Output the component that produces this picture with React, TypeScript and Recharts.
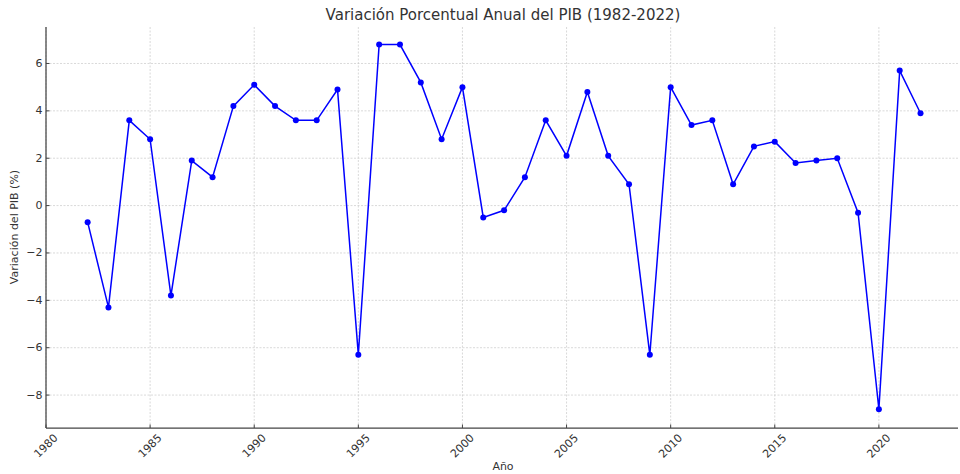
import React from "react";
import { LineChart, Line, XAxis, YAxis, CartesianGrid } from "recharts";

const years = [
  1982, 1983, 1984, 1985, 1986, 1987, 1988, 1989, 1990, 1991, 1992, 1993, 1994,
  1995, 1996, 1997, 1998, 1999, 2000, 2001, 2002, 2003, 2004, 2005, 2006, 2007,
  2008, 2009, 2010, 2011, 2012, 2013, 2014, 2015, 2016, 2017, 2018, 2019, 2020,
  2021, 2022,
];
const gdpChange = [
  -0.7, -4.3, 3.6, 2.8, -3.8, 1.9, 1.2, 4.2, 5.1, 4.2, 3.6, 3.6, 4.9, -6.3, 6.8,
  6.8, 5.2, 2.8, 5.0, -0.5, -0.2, 1.2, 3.6, 2.1, 4.8, 2.1, 0.9, -6.3, 5.0, 3.4,
  3.6, 0.9, 2.5, 2.7, 1.8, 1.9, 2.0, -0.3, -8.6, 5.7, 3.9,
];
const xTicks = [1980, 1985, 1990, 1995, 2000, 2005, 2010, 2015, 2020];
const yTicks = [-8, -6, -4, -2, 0, 2, 4, 6];

const title = "Variación Porcentual Anual del PIB (1982-2022)";
const xLabel = "Año";
const yLabel = "Variación del PIB (%)";

const data = years.map((y, i) => ({ year: y, value: gdpChange[i] }));

const FONT = "'DejaVu Sans', sans-serif";
const TEXT = "#333";
const SPINE = "#444";

const XTick = (props: any) => {
  const { x, y, payload } = props;
  return (
    <g>
      <line x1={x} x2={x} y1={y} y2={y - 3.5} stroke={SPINE} strokeWidth={1} />
      <text
        x={x}
        y={y + 18}
        transform={`rotate(-45, ${x}, ${y + 18})`}
        textAnchor="middle"
        dominantBaseline="central"
        fontFamily={FONT}
        fontSize={11}
        fill={TEXT}
      >
        {payload.value}
      </text>
    </g>
  );
};

const YTick = (props: any) => {
  const { x, y, payload } = props;
  const v = payload.value as number;
  const label = v < 0 ? `\u2212${Math.abs(v)}` : `${v}`;
  return (
    <g>
      <line x1={x} x2={x + 3.5} y1={y} y2={y} stroke={SPINE} strokeWidth={1} />
      <text
        x={x - 3.5}
        y={y}
        textAnchor="end"
        dominantBaseline="central"
        fontFamily={FONT}
        fontSize={11}
        fill={TEXT}
      >
        {label}
      </text>
    </g>
  );
};

const vGen = (args: any) => {
  const s = args?.xAxis?.scale;
  if (s && typeof s === "function") return xTicks.map((t) => s(t));
  if (s && typeof s.map === "function") return xTicks.map((t) => s.map(t));
  return [];
};
const hGen = (args: any) => {
  const s = args?.yAxis?.scale;
  if (s && typeof s === "function") return yTicks.map((t) => s(t));
  if (s && typeof s.map === "function") return yTicks.map((t) => s.map(t));
  return [];
};

export default function App() {
  return (
    <div
      style={{
        position: "absolute",
        left: 0,
        top: 0,
        width: 960,
        height: 474,
        background: "#fff",
        fontFamily: FONT,
      }}
    >
      <LineChart
        width={960}
        height={474}
        data={data}
        margin={{ top: 27, right: 2, left: 0, bottom: 0 }}
      >
        <CartesianGrid
          stroke="#c8c8c8"
          strokeDasharray="2 1.5"
          strokeWidth={0.7}
          verticalCoordinatesGenerator={vGen}
          horizontalCoordinatesGenerator={hGen}
        />
        <XAxis
          dataKey="year"
          type="number"
          domain={[1980, 2023.8]}
          ticks={xTicks}
          allowDataOverflow
          height={46}
          tickSize={0}
          tickMargin={0}
          tickLine={false}
          tick={<XTick />}
          axisLine={{ stroke: SPINE, strokeWidth: 1.25 }}
          interval={0}
        />
        <YAxis
          type="number"
          domain={[-9.39, 7.54]}
          ticks={yTicks}
          allowDataOverflow
          width={46}
          tickSize={0}
          tickMargin={0}
          tickLine={false}
          tick={<YTick />}
          axisLine={{ stroke: SPINE, strokeWidth: 1.25 }}
          interval={0}
        />
        <Line
          dataKey="value"
          stroke="#0000ff"
          strokeWidth={1.5}
          dot={{ r: 3, fill: "#0000ff", stroke: "none" }}
          activeDot={false}
          isAnimationActive={false}
        />
      </LineChart>
      <div
        style={{
          position: "absolute",
          left: 46,
          width: 914,
          top: 5,
          textAlign: "center",
          fontSize: 15,
          color: TEXT,
          lineHeight: "20px",
        }}
      >
        {title}
      </div>
      <div
        style={{
          position: "absolute",
          left: 46,
          width: 914,
          top: 460,
          textAlign: "center",
          fontSize: 11,
          color: TEXT,
          lineHeight: "13px",
        }}
      >
        {xLabel}
      </div>
      <div
        style={{
          position: "absolute",
          left: 15,
          top: 227,
          transform: "translate(-50%, -50%) rotate(-90deg)",
          whiteSpace: "nowrap",
          fontSize: 11,
          color: TEXT,
          lineHeight: "14px",
        }}
      >
        {yLabel}
      </div>
    </div>
  );
}
